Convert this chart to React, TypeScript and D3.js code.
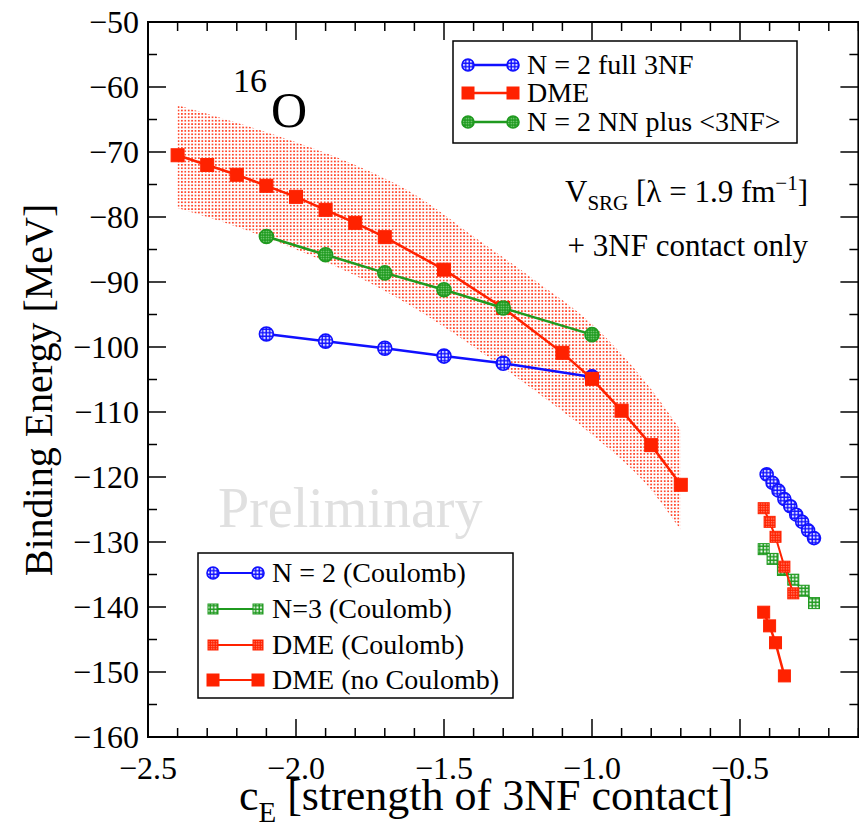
import * as d3 from "d3";

// axis ticks
const xTicks = [-2.5, -2.0, -1.5, -1.0, -0.5];
const yTicks = [-160, -150, -140, -130, -120, -110, -100, -90, -80, -70, -60, -50];

// N = 2 full 3NF
const cEFull = [-2.1, -1.9, -1.7, -1.5, -1.3, -1.0];
const bindFull = [-98.0, -99.1, -100.2, -101.4, -102.5, -104.6];

// DME
const cEDme = [-2.4, -2.3, -2.2, -2.1, -2.0, -1.9, -1.8, -1.7, -1.5, -1.3, -1.1, -1.0, -0.9, -0.8, -0.7];
const bindDme = [-70.5, -72.0, -73.5, -75.2, -76.9, -78.9, -80.9, -83.1, -88.1, -94.0, -100.9, -104.9, -109.8, -115.1, -121.2];

// N = 2 NN plus <3NF>
const cENnPlus = [-2.1, -1.9, -1.7, -1.5, -1.3, -1.0];
const bindNnPlus = [-83.0, -85.8, -88.6, -91.2, -94.0, -98.1];

// DME uncertainty band
const bandX = [-2.4, -2.2, -2.0, -1.8, -1.6, -1.4, -1.2, -1.0, -0.8, -0.7];
const bandHi = [-62.8, -65.5, -68.5, -72.0, -76.5, -83.0, -89.5, -96.5, -106.5, -112.8];
const bandLo = [-78.6, -81.5, -85.0, -89.0, -94.0, -100.0, -106.5, -113.5, -122.0, -128.2];

// Coulomb cluster
const cEN2Coul = [-0.41, -0.39, -0.37, -0.35, -0.33, -0.31, -0.29, -0.27, -0.25];
const bindN2Coul = [-119.6, -120.9, -122.1, -123.4, -124.5, -125.8, -126.9, -128.2, -129.4];
const cEN3Coul = [-0.42, -0.39, -0.355, -0.32, -0.285, -0.25];
const bindN3Coul = [-131.1, -132.6, -134.3, -135.8, -137.5, -139.4];
const cEDmeCoul = [-0.42, -0.4, -0.38, -0.35, -0.32];
const bindDmeCoul = [-124.8, -126.9, -129.2, -133.8, -137.9];
const cEDmeNoCoul = [-0.42, -0.4, -0.38, -0.35];
const bindDmeNoCoul = [-140.8, -142.9, -145.5, -150.6];

const BLUE = "#1010ff";
const RED = "#ff2200";
const GREEN = "#1f9a1f";
const FONT = "'Liberation Serif', 'Times New Roman', serif";

const W = 859, H = 826;
const left = 148, right = 858.4, top = 22, bottom = 737;

const x = d3.scaleLinear().domain([-2.5, -0.1]).range([left, right]);
const y = d3.scaleLinear().domain([-160, -50]).range([bottom, top]);

const zip = (xs: number[], ys: number[]) => xs.map((v, i) => [v, ys[i]] as [number, number]);
const line = d3.line<[number, number]>().x((d) => x(d[0])).y((d) => y(d[1]));

const Circle = ({ cx, cy, r, color, fill }: any) => (
  <circle cx={cx} cy={cy} r={r} fill={fill} stroke={color} strokeWidth={1.6} />
);
const Square = ({ cx, cy, s, color, fill }: any) => (
  <rect x={cx - s / 2} y={cy - s / 2} width={s} height={s} fill={fill} stroke={color} strokeWidth={1} />
);

const Series = ({ xs, ys, color, kind, size, fill, width = 2.5 }: any) => {
  const pts = zip(xs, ys);
  return (
    <g>
      <path d={line(pts) || ""} fill="none" stroke={color} strokeWidth={width} />
      {pts.map((p, i) =>
        kind === "circle" ? (
          <Circle key={i} cx={x(p[0])} cy={y(p[1])} r={size} color={color} fill={fill} />
        ) : (
          <Square key={i} cx={x(p[0])} cy={y(p[1])} s={size} color={color} fill={fill} />
        )
      )}
    </g>
  );
};

const LegendItem = ({ lx, ly, label, color, kind, size, fill, width = 2.5 }: any) => (
  <g>
    <line x1={lx} x2={lx + 45} y1={ly} y2={ly} stroke={color} strokeWidth={width} />
    {[lx, lx + 45].map((cx, i) =>
      kind === "circle" ? (
        <Circle key={i} cx={cx} cy={ly} r={size} color={color} fill={fill} />
      ) : (
        <Square key={i} cx={cx} cy={ly} s={size} color={color} fill={fill} />
      )
    )}
    <text x={lx + 59} y={ly + 9} fontSize={28} fontFamily={FONT} fill="#000">
      {label}
    </text>
  </g>
);

export default function App() {
  const bandPts = bandX.map((v, i) => ({ x: v, hi: bandHi[i], lo: bandLo[i] }));
  const area = d3
    .area<any>()
    .x((d) => x(d.x))
    .y0((d) => y(d.lo))
    .y1((d) => y(d.hi))
    .curve(d3.curveMonotoneX);

  const xMinor = d3.range(-2.5, -0.1 + 1e-9, 0.1);
  const yMinor = d3.range(-160, -50 + 1e-9, 5);
  const fmtX = d3.format(".1f");

  return (
    <svg width={W} height={H} style={{ position: "absolute", left: 0, top: 0, background: "#fff" }}>
      <defs>
        <pattern id="bandDots" width="3.4" height="3.4" patternUnits="userSpaceOnUse">
          <circle cx="1.7" cy="1.7" r="0.95" fill="#ff2000" />
        </pattern>
        <pattern id="blueHatch" width="3.5" height="3.5" patternUnits="userSpaceOnUse">
          <rect width="3.5" height="3.5" fill={BLUE} />
          <rect x="1" y="1" width="2" height="2" fill="#fff" />
        </pattern>
        <pattern id="greenDots" width="2.5" height="2.5" patternUnits="userSpaceOnUse">
          <rect width="2.5" height="2.5" fill={GREEN} />
          <circle cx="1.25" cy="1.25" r="0.7" fill="#9adf9a" />
        </pattern>
        <pattern id="redHatch" width="2.5" height="2.5" patternUnits="userSpaceOnUse">
          <rect width="2.5" height="2.5" fill={RED} />
          <rect x="1" y="1" width="1" height="1" fill="#ffd0c8" />
        </pattern>
        <pattern id="greenHatch" width="3.5" height="3.5" patternUnits="userSpaceOnUse">
          <rect width="3.5" height="3.5" fill={GREEN} />
          <rect x="1" y="1" width="2" height="2" fill="#fff" />
        </pattern>
      </defs>

      {/* band */}
      <path d={area(bandPts) || ""} fill="url(#bandDots)" />

      {/* watermark */}
      <text x={218} y={527} fontSize={56} fontFamily={FONT} fill="#e0e0e0">
        Preliminary
      </text>

      {/* main series */}
      <Series xs={cEFull} ys={bindFull} color={BLUE} kind="circle" size={7} fill="url(#blueHatch)" />
      <Series xs={cEDme} ys={bindDme} color={RED} kind="square" size={13} fill={RED} />
      <Series xs={cENnPlus} ys={bindNnPlus} color={GREEN} kind="circle" size={7} fill="url(#greenDots)" />

      {/* Coulomb cluster */}
      <Series xs={cEN2Coul} ys={bindN2Coul} color={BLUE} kind="circle" size={6.5} fill="url(#blueHatch)" />
      <Series xs={cEN3Coul} ys={bindN3Coul} color={GREEN} kind="square" size={11} fill="url(#greenHatch)" width={2} />
      <Series xs={cEDmeCoul} ys={bindDmeCoul} color={RED} kind="square" size={11} fill="url(#redHatch)" width={2} />
      <Series xs={cEDmeNoCoul} ys={bindDmeNoCoul} color={RED} kind="square" size={12} fill={RED} width={2.5} />

      {/* frame */}
      <rect x={left} y={top} width={right - left} height={bottom - top} fill="none" stroke="#000" strokeWidth={2} />

      {/* x ticks */}
      {xMinor.map((v, i) => {
        const major = xTicks.some((t) => Math.abs(t - v) < 1e-6);
        const len = major ? 18 : 9;
        return (
          <g key={"xt" + i} stroke="#000" strokeWidth={1.5}>
            <line x1={x(v)} x2={x(v)} y1={bottom} y2={bottom - len} />
            <line x1={x(v)} x2={x(v)} y1={top} y2={top + len} />
          </g>
        );
      })}
      {/* y ticks */}
      {yMinor.map((v, i) => {
        const major = yTicks.includes(v);
        const len = major ? 18 : 9;
        return (
          <g key={"yt" + i} stroke="#000" strokeWidth={1.5}>
            <line x1={left} x2={left + len} y1={y(v)} y2={y(v)} />
            <line x1={right} x2={right - len} y1={y(v)} y2={y(v)} />
          </g>
        );
      })}

      {/* tick labels */}
      {xTicks.map((t) => (
        <text key={"xl" + t} x={x(t)} y={779} textAnchor="middle" fontSize={32} fontFamily={FONT}>
          {fmtX(t)}
        </text>
      ))}
      {yTicks.map((t) => (
        <text key={"yl" + t} x={139} y={y(t) + 11} textAnchor="end" fontSize={32} fontFamily={FONT}>
          {d3.format("d")(t)}
        </text>
      ))}

      {/* axis labels */}
      <text transform="translate(52,390) rotate(-90)" textAnchor="middle" fontSize={40} fontFamily={FONT}>
        Binding Energy [MeV]
      </text>
      <text x={486} y={810} textAnchor="middle" fontSize={44} fontFamily={FONT}>
        c<tspan fontSize={29} dy={12}>E</tspan>
        <tspan dy={-12}> [strength of 3NF contact]</tspan>
      </text>

      {/* annotations */}
      <text x={233} y={92} fontSize={34} fontFamily={FONT}>16</text>
      <text x={271} y={127} fontSize={50} fontFamily={FONT}>O</text>

      <text x={808} y={202} textAnchor="end" fontSize={31} fontFamily={FONT}>
        V<tspan fontSize={21} dy={8}>SRG</tspan>
        <tspan dy={-8}> [λ = 1.9 fm</tspan>
        <tspan fontSize={21} dy={-12}>−1</tspan>
        <tspan dy={12}>]</tspan>
      </text>
      <text x={808} y={256} textAnchor="end" fontSize={31} fontFamily={FONT}>
        + 3NF contact only
      </text>

      {/* legend 1 */}
      <rect x={453} y={41} width={344} height={102} fill="#fff" stroke="#000" strokeWidth={1.5} />
      <LegendItem lx={468} ly={65} label="N = 2 full 3NF" color={BLUE} kind="circle" size={6} fill="url(#blueHatch)" />
      <LegendItem lx={468} ly={93} label="DME" color={RED} kind="square" size={12} fill={RED} />
      <LegendItem lx={468} ly={122} label="N = 2 NN plus <3NF>" color={GREEN} kind="circle" size={6} fill="url(#greenDots)" />

      {/* legend 2 */}
      <rect x={198} y={553} width={315} height={145} fill="#fff" stroke="#000" strokeWidth={1.5} />
      <LegendItem lx={213} ly={573} label="N = 2 (Coulomb)" color={BLUE} kind="circle" size={6} fill="url(#blueHatch)" width={2} />
      <LegendItem lx={213} ly={609} label="N=3 (Coulomb)" color={GREEN} kind="square" size={10} fill="url(#greenHatch)" width={2} />
      <LegendItem lx={213} ly={645} label="DME (Coulomb)" color={RED} kind="square" size={10} fill="url(#redHatch)" width={2} />
      <LegendItem lx={213} ly={680} label="DME (no Coulomb)" color={RED} kind="square" size={12} fill={RED} width={2} />
    </svg>
  );
}
